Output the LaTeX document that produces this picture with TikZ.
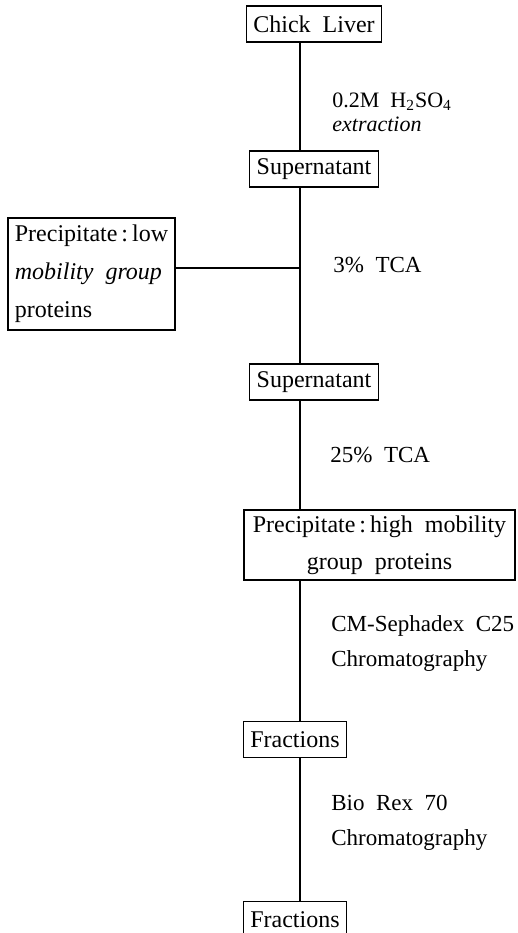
\documentclass[tikz,border=0pt]{standalone}
\usepackage{fontspec}
\setmainfont{Liberation Serif}[WordSpace=2]

\newcommand*{\boxfont}{\fontsize{12}{18.5}\selectfont}
\newcommand*{\stepfont}{\fontsize{11.5}{17.5}\selectfont}

\begin{document}
\begin{tikzpicture}
[
	x=0.5pt,
	y=-0.5pt,
	stage/.style={draw,thick,inner xsep=3.5pt,inner ysep=0pt,minimum height=18pt,font=\boxfont},
	cond/.style={anchor=west,align=left,inner xsep=0pt,font=\stepfont},
	link/.style={thick}
]
	\useasboundingbox (0,0) rectangle (518,933);

	% main column
	\coordinate (trunk) at (300,0);
	\coordinate (branch) at (300,268);

	\node[stage] (liver) at (314,24) {Chick Liver};
	\node[stage] (sup1) at (314,169) {Supernatant};
	\node[stage] (sup2) at (314,382) {Supernatant};
	\node[stage,align=center,minimum width=135.5pt,minimum height=35pt] (highprot) at (379.5,545)
		{Precipitate\,:\,high mobility\\group proteins};
	\node[stage] (frac1) at (295,739.5) {Fractions};
	\node[stage] (frac2) at (295,919.5) {Fractions};

	% side branch
	\node[stage,inner xsep=2.5pt,align=left,minimum width=83.5pt,minimum height=56pt,
		font=\fontsize{12}{19}\selectfont] (lowprot) at (91.5,274)
		{Precipitate\,:\,low\\\textit{mobility group}\\proteins};

	% connectors
	\draw[link] (liver.south -| trunk) -- (sup1.north -| trunk);
	\draw[link] (sup1.south -| trunk) -- (sup2.north -| trunk);
	\draw[link] (lowprot.east |- branch) -- (branch);
	\draw[link] (sup2.south -| trunk) -- (highprot.north -| trunk);
	\draw[link] (highprot.south -| trunk) -- (frac1.north -| trunk);
	\draw[link] (frac1.south -| trunk) -- (frac2.north -| trunk);

	% conditions
	\node[cond,font=\fontsize{11}{12}\selectfont] (acid) at (332,112)
		{0.2M H\textsubscript{2}SO\textsubscript{4}\\\textit{extraction}};
	\node[cond] (tca3) at (333,265) {3\% TCA};
	\node[cond] (tca25) at (330,455) {25\% TCA};
	\node[cond] (cmseph) at (331,643) {CM-Sephadex C25\\Chromatography};
	\node[cond] (biorex) at (331,823) {Bio Rex 70\\Chromatography};

\end{tikzpicture}
\end{document}
